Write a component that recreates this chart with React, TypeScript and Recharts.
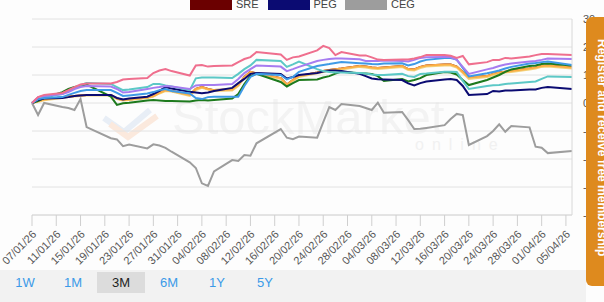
import React from 'react';
import { LineChart, Line, XAxis, YAxis, CartesianGrid } from 'recharts';

// trading sessions shown in the 3M view
const tradingDays = [
  '2026-01-07', '2026-01-08', '2026-01-09',
  '2026-01-12', '2026-01-13', '2026-01-14', '2026-01-15', '2026-01-16',
  '2026-01-20', '2026-01-21', '2026-01-22', '2026-01-23',
  '2026-01-26', '2026-01-27', '2026-01-28', '2026-01-29', '2026-01-30',
  '2026-02-02', '2026-02-03', '2026-02-04', '2026-02-05', '2026-02-06',
  '2026-02-09', '2026-02-10', '2026-02-11', '2026-02-12', '2026-02-13',
  '2026-02-17', '2026-02-18', '2026-02-19', '2026-02-20',
  '2026-02-23', '2026-02-24', '2026-02-25', '2026-02-26', '2026-02-27',
  '2026-03-02', '2026-03-03', '2026-03-04', '2026-03-05', '2026-03-06',
  '2026-03-09', '2026-03-10', '2026-03-11', '2026-03-12', '2026-03-13',
  '2026-03-16', '2026-03-17', '2026-03-18', '2026-03-19', '2026-03-20',
  '2026-03-23', '2026-03-24', '2026-03-25', '2026-03-26', '2026-03-27',
  '2026-03-30', '2026-03-31',
  '2026-04-01', '2026-04-02', '2026-04-06',
];

const tickLabels = [
  '07/01/26', '11/01/26', '15/01/26', '19/01/26', '23/01/26', '27/01/26',
  '31/01/26', '04/02/26', '08/02/26', '12/02/26', '16/02/26', '20/02/26',
  '24/02/26', '28/02/26', '04/03/26', '08/03/26', '12/03/26', '16/03/26',
  '20/03/26', '24/03/26', '28/03/26', '01/04/26', '05/04/26',
];
const valueTicks = [-40, -30, -20, -10, 0, 10, 20, 30];
const rangeButtons = ['1W', '1M', '3M', '6M', '1Y', '5Y'];
const activeRange = '3M';

// % change since 07/01/26
const neeReturns = [
  0, 2.1, 2.9, 3.6, 4.6, 5.7, 6.6, 7.0, 7.0, 7.5, 8.4, 8.6, 8.9, 10.7, 11.6, 12.1, 11.4,
  9.8, 13.4, 13.6, 13.0, 13.2, 13.4, 14.6, 15.7, 16.4, 18.2, 17.3, 15.4, 16.3, 16.6,
  18.8, 20.4, 19.6, 17.1, 18.2, 17.0, 17.0, 16.3, 15.5, 15.4, 15.5, 15.5, 15.9, 16.4, 17.1,
  17.1, 16.9, 16.1, 16.8, 13.8, 14.6, 15.4, 15.4, 16.1, 15.9, 16.6, 17.1, 17.5, 17.5, 17.1,
];
const dukReturns = [
  0, 1.4, 2.1, 3.2, 4.3, 5.4, 6.4, 7.1, 6.8, 5.7, 4.6, 4.8, 5.7, 6.8, 6.8, 6.3, 5.9,
  4.6, 8.8, 9.1, 9.1, 9.1, 8.9, 10.4, 12.1, 13.4, 15.4, 15.0, 12.9, 13.8, 14.8,
  12.1, 11.4, 11.1, 10.9, 10.9, 10.7, 10.5, 10.2, 10.0, 10.0, 10.4, 9.6, 9.3, 10.4, 10.5,
  11.2, 11.2, 11.1, 7.9, 5.0, 6.1, 6.3, 6.4, 6.8, 7.0, 7.5, 7.7, 8.6, 9.5, 9.3,
];
const soReturns = [
  0, 2.1, 2.5, 3.2, 3.9, 5.0, 5.7, 6.1, 5.9, 5.0, 3.75, 3.9, 5.0, 5.4, 5.7, 6.1, 5.9,
  5.0, 6.25, 6.4, 6.4, 6.4, 6.8, 8.6, 10.7, 12.1, 13.4, 13.0, 11.4, 12.1, 12.9,
  15.0, 15.4, 15.7, 15.9, 15.9, 15.6, 15.0, 15.0, 15.0, 15.2, 15.0, 14.8, 15.4, 16.1, 16.3,
  16.4, 16.4, 15.4, 12.9, 10.4, 12.0, 12.5, 13.2, 13.75, 14.1, 14.8, 15.0, 15.4, 15.9, 15.7,
];
const aepReturns = [
  0, 1.4, 1.8, 2.1, 2.9, 3.6, 4.3, 4.6, 4.6, 3.6, 2.5, 2.7, 3.4, 3.9, 4.6, 5.0, 4.3,
  3.4, 1.8, 1.4, 2.1, 2.25, 2.25, 2.25, 6.1, 9.3, 10.4, 10.0, 8.4, 9.3, 11.1,
  13.2, 13.6, 13.9, 14.3, 14.6, 14.2, 14.1, 13.9, 13.8, 14.1, 14.2, 13.4, 13.9, 14.8, 15.4,
  16.1, 16.1, 15.5, 12.5, 9.5, 10.6, 11.1, 11.6, 12.3, 12.9, 14.1, 14.3, 14.6, 14.8, 13.6,
];
const dReturns = [
  0, 0.7, 1.25, 2.1, 2.3, 2.5, 2.7, 2.9, 2.9, 1.6, 1.1, 1.25, 2.0, 2.5, 3.6, 4.5, 4.3,
  2.9, 5.0, 5.7, 5.0, 4.6, 4.8, 6.4, 9.3, 11.1, 10.6, 8.9, 6.6, 8.2, 9.6,
  10.9, 11.4, 11.8, 12.1, 12.3, 13.2, 13.0, 12.7, 12.5, 12.7, 13.2, 12.1, 12.0, 12.9, 13.4,
  13.75, 13.75, 13.0, 11.1, 9.1, 9.6, 10.4, 10.9, 11.2, 11.4, 12.3, 12.7, 13.2, 13.4, 12.7,
];
const excReturns = [
  0, 0.4, 1.0, 1.8, 2.1, 2.3, 2.5, 2.7, 2.7, 1.4, 0.9, 1.1, 1.8, 2.3, 3.4, 4.3, 4.1,
  2.5, 4.6, 5.4, 4.8, 4.3, 4.5, 6.1, 9.0, 10.7, 10.4, 8.6, 6.1, 7.9, 9.3,
  10.6, 11.1, 11.6, 11.8, 12.0, 12.9, 12.7, 12.3, 12.1, 12.3, 12.9, 11.8, 11.6, 12.5, 13.0,
  13.4, 13.4, 12.7, 10.7, 8.6, 9.3, 10.0, 10.5, 10.9, 11.1, 12.0, 12.3, 12.9, 13.0, 12.3,
];
const xelReturns = [
  0, 0.7, 1.8, 3.9, 5.0, 5.7, 6.1, 6.6, 2.3, -0.7, -0.1, 0.1, 0.9, 1.1, 0.9, 0.7, 0.7,
  0.5, 0.9, 1.1, 0.9, 1.1, 1.6, 3.2, 6.8, 9.6, 10.4, 7.5, 5.9, 7.1, 8.2,
  8.4, 9.1, 9.6, 10.5, 11.2, 10.6, 10.5, 10.4, 9.6, 7.9, 8.6, 7.7, 8.2, 8.9, 10.0,
  11.1, 10.9, 10.2, 8.2, 6.4, 8.2, 9.1, 10.0, 11.1, 12.0, 13.2, 13.4, 13.9, 14.1, 13.4,
];
const sreReturns = [
  0, 0.7, 1.25, 2.1, 2.3, 2.5, 2.7, 2.9, 2.9, 1.6, 1.1, 1.25, 2.0, 2.5, 3.6, 4.5, 4.3,
  2.9, 5.0, 5.7, 5.0, 4.6, 4.8, 6.4, 9.3, 11.1, 10.6, 8.9, 6.6, 8.2, 9.6,
  10.9, 11.4, 11.8, 12.1, 12.3, 13.2, 13.0, 12.7, 12.5, 12.7, 13.2, 12.1, 12.0, 12.9, 13.4,
  13.75, 13.75, 13.0, 11.1, 9.1, 9.6, 10.4, 10.9, 11.2, 11.4, 12.3, 12.7, 13.2, 13.4, 12.7,
];
const pegReturns = [
  0, 1.1, 1.6, 1.8, 2.1, 2.5, 2.7, 2.9, 2.9, 1.8, 1.25, 1.6, 2.25, 3.2, 4.3, 5.7, 5.2,
  4.0, 3.75, 3.5, 3.75, 4.3, 5.4, 7.1, 8.6, 10.4, 10.7, 10.4, 8.75, 9.3, 10.0,
  10.7, 11.25, 11.6, 11.6, 11.4, 10.4, 9.6, 8.75, 8.5, 8.4, 8.2, 7.0, 6.25, 7.1, 7.7,
  8.4, 8.6, 8.2, 6.1, 2.9, 3.2, 4.3, 4.1, 4.5, 4.5, 4.8, 4.8, 5.4, 5.7, 5.0,
];
const cegReturns = [
  0, -4.3, 0, -1.4, -1.8, -2.5, 1.4, -8.6, -12.6, -13.0, -15.4, -14.8, -16.2, -14.75, -15.2, -16.0, -17.4,
  -21.2, -23.2, -28.7, -29.6, -24.4, -20.4, -20.7, -18.6, -18.8, -14.4, -9.3, -12.4, -12.9, -12.0,
  -12.4, -6.8, -1.5, -2.5, -0.4, -1.1, -1.8, -2.5, 0.1, -3.5, -3.2, -6.1, -9.3, -9.2, -8.9,
  -7.9, -5.7, -3.9, -4.3, -15.0, -11.8, -10.0, -7.6, -10.3, -8.2, -8.7, -15.6, -16.0, -17.9, -17.1,
];

// drawn in this order, last on top
const series = [
  { key: 'CEG', color: '#9d9d9d', values: cegReturns },
  { key: 'SRE', color: '#6b0000', values: sreReturns },
  { key: 'EXC', color: '#f2d27c', values: excReturns },
  { key: 'D', color: '#fcae45', values: dReturns },
  { key: 'XEL', color: '#1d7a1d', values: xelReturns },
  { key: 'PEG', color: '#0b0b72', values: pegReturns },
  { key: 'DUK', color: '#5cc8c6', values: dukReturns },
  { key: 'AEP', color: '#3e9ae6', values: aepReturns },
  { key: 'SO', color: '#a67cf0', values: soReturns },
  { key: 'NEE', color: '#ef6f8e', values: neeReturns },
];
const legendRow = ['SRE', 'PEG', 'CEG'];

const FONT = '"Liberation Sans", Arial, sans-serif';

const isoTime = (s: string) => Date.parse(s + 'T00:00:00Z');
const labelTime = (s: string) => {
  const [d, m, y] = s.split('/').map(Number);
  return Date.UTC(2000 + y, m - 1, d);
};

const rows = tradingDays.map((day, i) => {
  const row: { [key: string]: number } = { t: isoTime(day) };
  series.forEach((s) => { row[s.key] = s.values[i]; });
  return row;
});
const tickTimes = tickLabels.map(labelTime);
const labelByTime: { [key: number]: string } = {};
tickLabels.forEach((l) => { labelByTime[labelTime(l)] = l; });

const DateTick = (props: any) => {
  const { x, y, payload } = props;
  const ax = x + 5;
  const ay = y + 7;
  return (
    <text x={ax} y={ay} textAnchor="end" fontSize={11} fill="#555" fontFamily={FONT}
      transform={`rotate(-45 ${ax} ${ay})`}>
      {labelByTime[payload.value]}
    </text>
  );
};

const ValueTick = (props: any) => {
  const { x, y, payload } = props;
  return (
    <text x={x + 3} y={y} dy="0.35em" fontSize={11} fill="#555" fontFamily={FONT}>
      {payload.value}
    </text>
  );
};

// faint site logo behind the plot
const Watermark = () => (
  <svg width={604} height={270} style={{ position: 'absolute', left: 0, top: 0 }}>
    <polyline points="104,118 124,132 150,110" fill="none" stroke="#e8eef6" strokeWidth={6} />
    <polyline points="110,124 128,137 157,116" fill="none" stroke="#fbe9dd" strokeWidth={6} />
    <text x={172} y={134} fontSize={49} fill="#f3f3f3" fontFamily={FONT}>StockMarket</text>
    <text x={415} y={150} fontSize={16} letterSpacing={8} fill="#f1f1f1" fontFamily={FONT}>online</text>
  </svg>
);

export default function App() {
  const colorOf = (k: string) => series.find((s) => s.key === k)?.color;
  return (
    <div style={{ position: 'fixed', left: 0, top: 0, width: 604, height: 302, background: '#fdfdfd', overflow: 'hidden', fontFamily: FONT }}>
      <Watermark />
      <div style={{ position: 'absolute', left: 0, top: 0 }}>
        <LineChart width={604} height={270} data={rows} margin={{ top: 19, right: 0, left: 32, bottom: 0 }}>
          <CartesianGrid vertical={false} stroke="#e2e2e2" />
          <XAxis
            dataKey="t"
            type="number"
            domain={[isoTime(tradingDays[0]), isoTime(tradingDays[tradingDays.length - 1])]}
            ticks={tickTimes}
            interval={0}
            height={55}
            tickSize={11}
            tickLine={{ stroke: '#cfcfcf' }}
            axisLine={{ stroke: '#d8d8d8' }}
            tick={<DateTick />}
          />
          <YAxis
            orientation="right"
            domain={[-40, 30]}
            ticks={valueTicks}
            width={32}
            tickLine={false}
            axisLine={{ stroke: '#d8d8d8' }}
            tick={<ValueTick />}
          />
          {series.map((s) => (
            <Line
              key={s.key}
              type="linear"
              dataKey={s.key}
              stroke={s.color}
              strokeWidth={2}
              dot={false}
              activeDot={false}
              isAnimationActive={false}
            />
          ))}
        </LineChart>
      </div>

      {legendRow.map((k, i) => (
        <div key={k} style={{ position: 'absolute', left: 190 + i * 77.5, top: -3, display: 'flex', alignItems: 'flex-end' }}>
          <div style={{ width: 42, height: 12.5, background: colorOf(k) }} />
          <span style={{ marginLeft: 4, fontSize: 11, lineHeight: '11px', color: '#444' }}>{k}</span>
        </div>
      ))}

      <div style={{ position: 'absolute', left: 586, top: 17, width: 30, height: 269, background: '#de8a1e', borderRadius: '6px 0 0 6px' }}>
        <div style={{ position: 'absolute', left: 9, top: 22, writingMode: 'vertical-rl', color: '#fff', fontWeight: 'bold', fontSize: 12, whiteSpace: 'nowrap' }}>
          Register and receive free membership
        </div>
      </div>

      <div style={{ position: 'absolute', left: 0, top: 270, width: 586, height: 32, background: '#f2f2f2' }}>
        {rangeButtons.map((b, i) => (
          <div key={b} style={{
            position: 'absolute', left: 1 + i * 48, top: 2, width: 48, height: 21,
            lineHeight: '21px', textAlign: 'center', fontSize: 13,
            background: b === activeRange ? '#dcdcdc' : 'transparent',
            color: b === activeRange ? '#222' : '#3b9ae8',
          }}>{b}</div>
        ))}
      </div>
    </div>
  );
}
